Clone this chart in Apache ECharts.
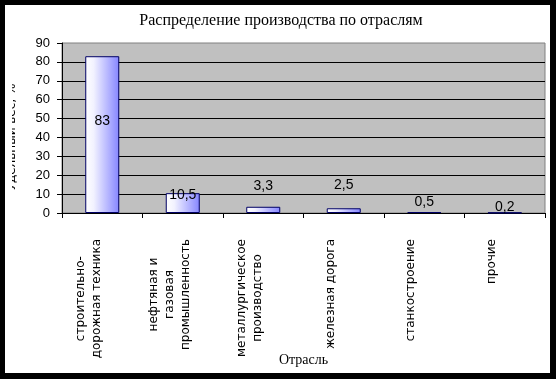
<!DOCTYPE html>
<html><head><meta charset="utf-8">
<script src="https://cdn.jsdelivr.net/npm/echarts@6/dist/echarts.min.js"></script>
<style>
html,body{margin:0;padding:0;background:#000;width:556px;height:379px;overflow:hidden}
#paper{position:absolute;left:5px;top:5px;width:545px;height:368px;background:#fff}
#chart{position:absolute;left:12px;top:5px;width:538px;height:368px;overflow:hidden}
</style></head><body>
<div id="paper"></div><div id="chart"></div>
<script>
const chartTitle = 'Распределение производства по отраслям';
const categories = ['строительно-\nдорожная техника', 'нефтяная и\nгазовая\nпромышленность', 'металлургическое\nпроизводство', 'железная дорога', 'станкостроение', 'прочие'];
const values = [83, 10.5, 3.3, 2.5, 0.5, 0.2];
const yMin = 0, yMax = 90, yStep = 10;
const yAxisName = 'Удельный вес, %';
const xAxisName = 'Отрасль';

// label placement styling (not data)
const labelPlacement = [
  {position: 'inside', offset: [0, -13]},
  {position: 'top', offset: [0, 14]},
  {position: 'top', offset: [0, -9]},
  {position: 'top', offset: [0, -11]},
  {position: 'top', offset: [0, 2]},
  {position: 'top', offset: [0, 7]}
];

const narrow = "'Liberation Sans Narrow', 'Liberation Sans', Arial, sans-serif";
const chart = echarts.init(document.getElementById('chart'), null, {renderer: 'canvas'});
chart.setOption({
  animation: false,
  backgroundColor: 'transparent',
  title: {
    text: chartTitle, left: 'center', top: 8, padding: 0,
    textStyle: {fontFamily: "'Liberation Serif', serif", fontSize: 16, fontWeight: 'normal', color: '#000'}
  },
  grid: {left: 50, right: 5, top: 38, bottom: 160, outerBoundsMode: 'none', containLabel: false,
    show: true, backgroundColor: '#c0c0c0', borderColor: '#808080', borderWidth: 1},
  xAxis: {
    type: 'category', data: categories,
    name: xAxisName, nameLocation: 'middle', nameGap: 140, nameMoveOverlap: false,
    nameTextStyle: {fontFamily: "'Liberation Serif', serif", fontSize: 14, color: '#000'},
    axisLine: {lineStyle: {color: '#000', width: 1}},
    axisTick: {show: true, length: 5, lineStyle: {color: '#000'}},
    axisLabel: {
      rotate: 90, margin: 26, interval: 0, color: '#000',
      padding: [0, 0, 26, 0],
      formatter: v => v.split('\n').map(s => '{c|' + s + '}').join('\n'),
      rich: {c: {align: 'center', fontFamily: "'DejaVu Sans', sans-serif", fontSize: 12, lineHeight: 16, color: '#000'}}
    }
  },
  yAxis: {
    type: 'value', min: yMin, max: yMax, interval: yStep,
    name: yAxisName, nameLocation: 'middle', nameGap: 44, nameMoveOverlap: false,
    nameTextStyle: {fontFamily: "'DejaVu Sans', sans-serif", fontSize: 12, color: '#000', padding: [0, 18, 0, 0]},
    axisLine: {show: true, lineStyle: {color: '#000', width: 1}},
    axisTick: {show: true, length: 5, lineStyle: {color: '#000'}},
    axisLabel: {margin: 12, color: '#000', fontFamily: narrow, fontSize: 13},
    splitLine: {show: true, showMaxLine: false, lineStyle: {color: '#000', width: 1}}
  },
  series: [{
    type: 'bar', barWidth: 34,
    data: values.map((v, i) => ({
      value: v,
      label: Object.assign({show: true}, labelPlacement[i])
    })),
    itemStyle: {
      color: new echarts.graphic.LinearGradient(0, 0, 1, 0, [
        {offset: 0, color: '#ffffff'},
        {offset: 0.25, color: '#f2f2ff'},
        {offset: 1, color: '#8585ff'}
      ]),
      borderColor: '#000066', borderWidth: 1
    },
    label: {
      color: '#000', fontFamily: narrow, fontSize: 14,
      formatter: p => String(p.value).replace('.', ',')
    }
  }]
});
</script>
</body></html>
